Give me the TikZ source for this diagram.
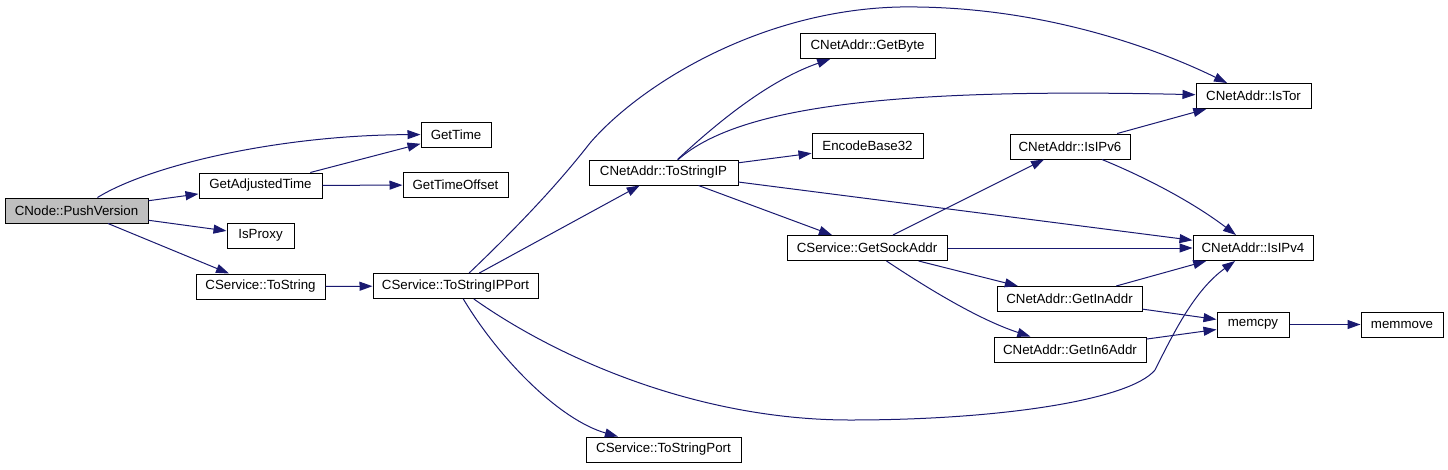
\documentclass[tikz,border=0pt]{standalone}
\usepackage{fontspec}
\setmainfont{Liberation Sans}
\usetikzlibrary{arrows.meta}
\definecolor{edgeblue}{HTML}{191970}
\definecolor{rootgray}{HTML}{BFBFBF}
\begin{document}
\begin{tikzpicture}[x=1pt,y=-1pt,
  fn/.style={draw=black, fill=white, line width=1pt, minimum height=25pt, inner sep=0pt,
             font=\fontsize{13.3}{16}\selectfont},
  root/.style={fn, fill=rootgray},
  call/.style={draw=edgeblue, line width=1pt, -{Triangle[length=13pt,width=9pt]}}]
\useasboundingbox (0,0) rectangle (1448,469);
% rank 0
\node[root, minimum width=143pt] (push) at (76.5,210.5) {CNode::PushVersion};
% rank 1
\node[fn, minimum width=123pt] (adj) at (260.5,185.5) {GetAdjustedTime};
\node[fn, minimum width=67pt] (proxy) at (260.5,235.5) {IsProxy};
\node[fn, minimum width=129pt] (tostr) at (260.5,286.5) {CService::ToString};
% rank 2
\node[fn, minimum width=70pt] (gettime) at (456,134.5) {GetTime};
\node[fn, minimum width=105pt] (offset) at (455.5,185) {GetTimeOffset};
\node[fn, minimum width=165pt] (ipport) at (455.5,286) {CService::ToStringIPPort};
% rank 3
\node[fn, minimum width=149pt] (tsip) at (663.5,172.5) {CNetAddr::ToStringIP};
\node[fn, minimum width=155pt] (tsport) at (663.5,449.5) {CService::ToStringPort};
% rank 4
\node[fn, minimum width=135pt] (getbyte) at (867.5,46) {CNetAddr::GetByte};
\node[fn, minimum width=111pt] (enc) at (867.5,146) {EncodeBase32};
\node[fn, minimum width=160pt] (sock) at (867,248) {CService::GetSockAddr};
% rank 5
\node[fn, minimum width=120pt] (ipv6) at (1070,146.5) {CNetAddr::IsIPv6};
\node[fn, minimum width=145pt] (inaddr) at (1069.5,299) {CNetAddr::GetInAddr};
\node[fn, minimum width=152pt] (in6addr) at (1070,349.5) {CNetAddr::GetIn6Addr};
% rank 6
\node[fn, minimum width=115pt] (istor) at (1253.5,96) {CNetAddr::IsTor};
\node[fn, minimum width=120pt] (ipv4) at (1253,248) {CNetAddr::IsIPv4};
\node[fn, minimum width=72pt] (memcpy) at (1253,324.5) {memcpy};
% rank 7
\node[fn, minimum width=82pt] (memmove) at (1402,324.5) {memmove};

% edges
\draw[call] (push) .. controls (150,165) and (280,135) .. (gettime);
\draw[call] (push) -- (adj);
\draw[call] (push) -- (proxy);
\draw[call] (push) -- (tostr);
\draw[call] (adj) -- (gettime);
\draw[call] (adj) -- (offset);
\draw[call] (tostr) -- (ipport);
\draw[call] (ipport) -- (tsip);
\draw[call] (ipport) .. controls (530,215) and (565,175) .. (590,143)
                     .. controls (640,85) and (760,10) .. (900,7)
                     .. controls (1050,5) and (1170,55) .. (istor);
\draw[call] (ipport) .. controls (560,360) and (700,420) .. (850,420)
                     .. controls (1000,420) and (1130,400) .. (1155,370)
                     .. controls (1175,330) and (1195,290) .. (ipv4);
\draw[call] (ipport) .. controls (500,360) and (560,420) .. (tsport);
\draw[call] (tsip) .. controls (720,120) and (770,80) .. (getbyte);
\draw[call] (tsip) .. controls (740,105) and (900,88) .. (istor);
\draw[call] (tsip) -- (enc);
\draw[call] (tsip) -- (ipv4);
\draw[call] (tsip) -- (sock);
\draw[call] (sock) -- (ipv6);
\draw[call] (sock) -- (ipv4);
\draw[call] (sock) -- (inaddr);
\draw[call] (sock) .. controls (930,290) and (980,320) .. (in6addr);
\draw[call] (ipv6) -- (istor);
\draw[call] (ipv6) .. controls (1140,175) and (1190,200) .. (ipv4);
\draw[call] (inaddr) -- (ipv4);
\draw[call] (inaddr) -- (memcpy);
\draw[call] (in6addr) -- (memcpy);
\draw[call] (memcpy) -- (memmove);
\end{tikzpicture}
\end{document}
